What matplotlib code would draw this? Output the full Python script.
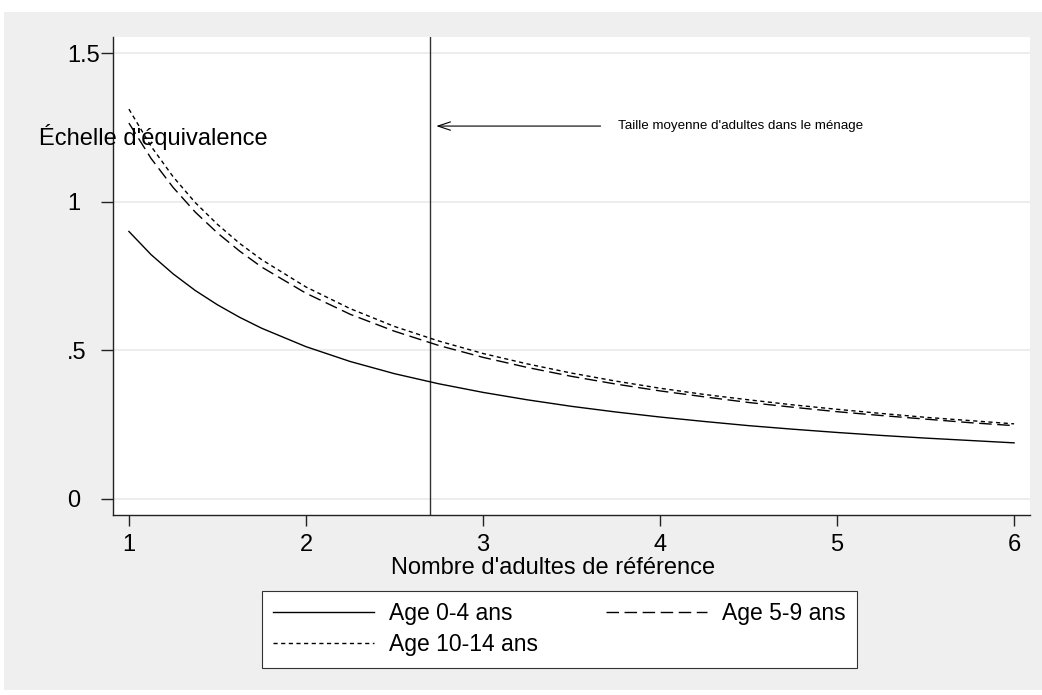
import matplotlib
matplotlib.use("Agg")
import matplotlib.pyplot as plt
from matplotlib.patches import Rectangle

plt.rcParams['font.family'] = ['Liberation Sans', 'DejaVu Sans']

# nombre d'adultes de reference
adultes = [1, 1.125, 1.25, 1.375, 1.5, 1.625, 1.75, 2, 2.25, 2.5, 2.75, 3, 3.25, 3.5,
           3.75, 4, 4.25, 4.5, 4.75, 5, 5.25, 5.5, 5.75, 6]

# echelle d'equivalence par tranche d'age
age_0_4 = [0.900, 0.822, 0.757, 0.701, 0.653, 0.611, 0.574, 0.512, 0.462, 0.421, 0.387,
           0.358, 0.333, 0.311, 0.292, 0.275, 0.260, 0.246, 0.234, 0.223, 0.213, 0.204,
           0.196, 0.188]
age_5_9 = [1.265, 1.146, 1.048, 0.965, 0.895, 0.834, 0.780, 0.692, 0.621, 0.564, 0.516,
           0.476, 0.442, 0.412, 0.386, 0.363, 0.343, 0.324, 0.308, 0.293, 0.280, 0.268,
           0.256, 0.246]
age_10_14 = [1.312, 1.187, 1.084, 0.997, 0.924, 0.860, 0.805, 0.713, 0.640, 0.580, 0.531,
             0.489, 0.454, 0.423, 0.396, 0.372, 0.351, 0.333, 0.316, 0.301, 0.287, 0.274,
             0.263, 0.252]

taille_moyenne = 2.7

yticks = [0, 0.5, 1, 1.5]
ytick_labels = ["0", ".5", "1", "1.5"]
xticks = [1, 2, 3, 4, 5, 6]

W, H = 1042, 695
fig = plt.figure(figsize=(W / 100, H / 100), dpi=100, facecolor="white")

# fond gris de la zone du graphique
fig.patches.append(Rectangle((4 / W, 5 / H), 1 - 4 / W, (H - 17) / H,
                             transform=fig.transFigure, facecolor="#efefef",
                             edgecolor="none", zorder=-10))

ax = fig.add_axes([113 / W, 1 - 515 / H, (1030 - 113) / W, (515 - 37) / H])
ax.set_zorder(1)
ax.set_facecolor("white")
ax.set_xlim(0.91, 6.09)
ax.set_ylim(-0.055, 1.555)

for y in yticks:
    ax.axhline(y, color="#eaeaea", lw=1.2, zorder=1)

l1, = ax.plot(adultes, age_0_4, color="black", lw=1.0, label="Age 0-4 ans", zorder=3)
l2, = ax.plot(adultes, age_5_9, color="black", lw=1.0, dashes=(9, 4), label="Age 5-9 ans", zorder=3)
l3, = ax.plot(adultes, age_10_14, color="black", lw=1.0, dashes=(3, 2.5), label="Age 10-14 ans", zorder=3)

ax.axvline(taille_moyenne, color="#333333", lw=1.0, zorder=2)
ax.annotate("", xy=(taille_moyenne + 0.02, 1.255), xytext=(3.68, 1.255),
            arrowprops=dict(arrowstyle="->,head_length=0.9,head_width=0.3",
                            color="black", lw=0.8))
ax.text(3.765, 1.255, "Taille moyenne d'adultes dans le ménage",
        fontsize=9.6, va="center", ha="left")

for side in ["top", "right"]:
    ax.spines[side].set_visible(False)
for side in ["left", "bottom"]:
    ax.spines[side].set_color("#222222")
    ax.spines[side].set_linewidth(1.0)

ax.set_yticks(yticks)
ax.set_yticklabels(ytick_labels)
ax.set_xticks(xticks)
ax.tick_params(axis="y", length=9, width=1, color="#222222", labelsize=17, pad=24)
ax.tick_params(axis="x", length=8, width=1, color="#222222", labelsize=17, pad=6)
for lab in ax.get_yticklabels():
    lab.set_horizontalalignment("left")

fig.text(39 / W, 1 - 137 / H, "Échelle d'équivalence", fontsize=17,
         ha="left", va="center")
fig.text(553 / W, 1 - 568 / H, "Nombre d'adultes de référence", fontsize=17,
         ha="center", va="center")

# ordre colonne par colonne pour obtenir la disposition en lignes
leg = fig.legend(handles=[l1, l3, l2], loc="upper left",
                 bbox_to_anchor=(262 / W, 1 - 591 / H), borderaxespad=0,
                 ncol=2, frameon=True, fancybox=False, fontsize=16.5,
                 handlelength=4.4, handletextpad=0.65, columnspacing=2.95,
                 borderpad=0.5, labelspacing=0.35)
leg.get_frame().set_edgecolor("#333333")
leg.get_frame().set_linewidth(0.8)
leg.get_frame().set_facecolor("white")
leg.get_frame().set_alpha(1)

fig.savefig("out.png", dpi=100, facecolor=fig.get_facecolor())
